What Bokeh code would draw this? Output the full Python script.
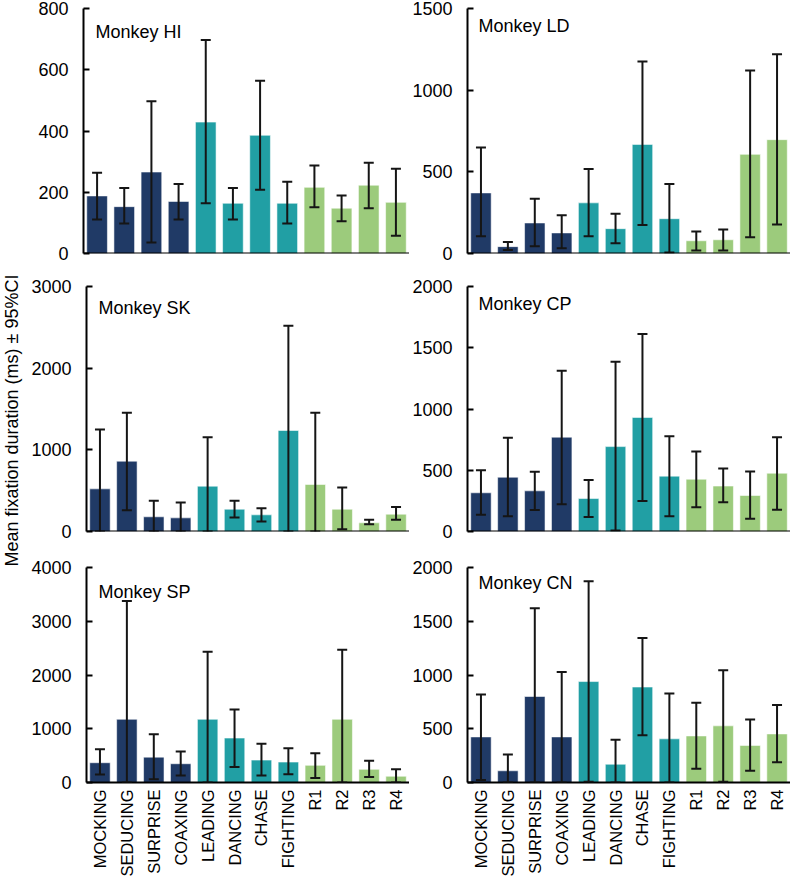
import math
from bokeh.plotting import figure
from bokeh.models import (ColumnDataSource, FactorRange, Range1d, FixedTicker,
                          Whisker, TeeHead, Label, Span)
from bokeh.layouts import row, column
from bokeh.embed import file_html
from bokeh.resources import INLINE

# ---------------- data ----------------
categories = ["MOCKING", "SEDUCING", "SURPRISE", "COAXING", "LEADING", "DANCING",
              "CHASE", "FIGHTING", "R1", "R2", "R3", "R4"]
groups = ["g1"] * 4 + ["g2"] * 4 + ["g3"] * 4

hi_mean = [188, 153, 266, 170, 429, 164, 386, 164, 216, 148, 223, 167]
hi_upper = [264, 214, 497, 227, 697, 214, 564, 234, 287, 189, 296, 277]
hi_lower = [111, 98, 36, 111, 164, 111, 208, 98, 151, 105, 148, 58]

ld_mean = [371, 42, 187, 126, 310, 152, 668, 213, 78, 84, 607, 697]
ld_upper = [649, 70, 335, 234, 518, 244, 1175, 425, 135, 147, 1121, 1220]
ld_lower = [105, 21, 44, 32, 105, 63, 175, 6, 19, 19, 99, 177]

sk_mean = [522, 861, 180, 167, 555, 273, 204, 1237, 576, 273, 106, 212]
sk_upper = [1249, 1453, 376, 355, 1155, 376, 286, 2518, 1453, 539, 143, 300]
sk_lower = [0, 261, 0, 0, 0, 171, 122, 0, 0, 29, 90, 145]

cp_mean = [316, 443, 332, 770, 269, 693, 931, 452, 427, 371, 294, 476]
cp_upper = [501, 765, 488, 1313, 421, 1385, 1612, 778, 654, 515, 490, 770]
cp_lower = [136, 125, 175, 222, 119, 8, 249, 125, 197, 238, 105, 177]

sp_mean = [368, 1176, 472, 349, 1176, 827, 417, 380, 319, 1176, 245, 116]
sp_upper = [619, 3375, 900, 576, 2432, 1360, 723, 637, 545, 2469, 404, 245]
sp_lower = [147, 0, 61, 129, 0, 288, 129, 153, 86, 0, 104, 0]

cn_mean = [424, 109, 800, 424, 939, 170, 888, 406, 433, 527, 345, 452]
cn_upper = [818, 261, 1621, 1027, 1873, 397, 1345, 827, 742, 1045, 585, 721]
cn_lower = [24, 0, 0, 0, 6, 0, 439, 0, 127, 6, 109, 188]

panel_titles = ["Monkey HI", "Monkey LD", "Monkey SK", "Monkey CP", "Monkey SP", "Monkey CN"]
y_max = [800, 1500, 3000, 2000, 4000, 2000]
y_step = [200, 500, 1000, 500, 1000, 500]
y_label = "Mean fixation duration (ms) \u00b1 95%CI"

# ---------------- styles ----------------
palette = {"g1": "#203a66", "g2": "#219fa4", "g3": "#9ccb7c"}
FONT = "Liberation Sans"
ERR = "#151515"

panel_data = [
    (hi_mean, hi_upper, hi_lower), (ld_mean, ld_upper, ld_lower),
    (sk_mean, sk_upper, sk_lower), (cp_mean, cp_upper, cp_lower),
    (sp_mean, sp_upper, sp_lower), (cn_mean, cn_upper, cn_lower),
]

STRIP_W = 28
LEFT_W = 381     # 28 .. 409
RIGHT_W = 381    # 409 .. 790
LEFT_BORDER = [55, 58]
RIGHT_BORDER = [0, 0]
ROW_BORDERS = [(8, 16), (17, 18), (18, 95)]
FRAME_H = [245, 245, 217]
TITLE_DY = [[23, 17], [21, 17], [25, 16]]
TITLE_DX = [12, 11]


def make_panel(idx):
    r, c = divmod(idx, 2)
    mean, upper, lower = panel_data[idx]
    top_b, bot_b = ROW_BORDERS[r]
    fh = FRAME_H[r]
    w = LEFT_W if c == 0 else RIGHT_W
    h = top_b + fh + bot_b
    fw = w - LEFT_BORDER[c] - RIGHT_BORDER[c]
    ymax = y_max[idx]

    src = ColumnDataSource(dict(
        cat=categories, mean=mean, upper=upper, lower=lower,
        color=[palette[g] for g in groups]))

    p = figure(x_range=FactorRange(*categories, range_padding=0),
               y_range=Range1d(0, ymax), width=w, height=h,
               output_backend="svg", toolbar_location=None,
               min_border_left=LEFT_BORDER[c], min_border_right=RIGHT_BORDER[c],
               min_border_top=top_b, min_border_bottom=bot_b)
    p.vbar(x="cat", top="mean", width=0.76, source=src, fill_color="color",
           line_color="#ffffff", line_alpha=0.55, line_width=1)
    head = dict(size=10, line_width=2, line_color=ERR)
    p.add_layout(Whisker(base="cat", upper="upper", lower="lower", source=src,
                         line_width=2, line_color=ERR, level="overlay",
                         upper_head=TeeHead(**head), lower_head=TeeHead(**head)))

    p.xgrid.visible = False
    p.ygrid.visible = False
    p.outline_line_color = None
    p.background_fill_color = "white"
    p.border_fill_color = "white"

    ya = p.yaxis[0]
    ya.ticker = FixedTicker(ticks=list(range(0, ymax + 1, y_step[idx])))
    ya.major_tick_in = 6
    ya.major_tick_out = 0
    ya.major_tick_line_width = 2
    ya.major_tick_line_color = "black"
    ya.minor_tick_line_color = None
    ya.axis_line_width = 2
    ya.axis_line_color = "black"
    ya.major_label_standoff = 15
    ya.major_label_text_font = FONT
    ya.major_label_text_font_size = "18px"
    ya.major_label_text_color = "black"

    xa = p.xaxis[0]
    if r == 2:
        xa.major_tick_line_color = None
        xa.minor_tick_line_color = None
        xa.major_tick_out = 0
        xa.major_tick_in = 0
        xa.axis_line_width = 2
        xa.axis_line_color = "black"
        xa.major_label_orientation = math.pi / 2
        xa.major_label_standoff = 7
        xa.major_label_text_font = FONT
        xa.major_label_text_font_size = "16.5px"
        xa.major_label_text_color = "black"
    else:
        xa.visible = False
        p.add_layout(Span(location=0, dimension="width", line_color="black",
                          line_width=2, level="overlay"))

    cat_px = fw / len(categories)
    p.add_layout(Label(x=TITLE_DX[c] / cat_px, y=ymax * (1 - TITLE_DY[r][c] / fh),
                       text=panel_titles[idx], text_font=FONT, text_font_size="18px",
                       text_color="black", text_align="left", text_baseline="middle"))
    return p


panels = [make_panel(i) for i in range(6)]
total_h = sum(tb + fh + bb for (tb, bb), fh in zip(ROW_BORDERS, FRAME_H))

strip = figure(width=STRIP_W, height=total_h, x_range=Range1d(0, STRIP_W),
               y_range=Range1d(0, total_h), output_backend="svg",
               toolbar_location=None, min_border=0)
strip.axis.visible = False
strip.grid.visible = False
strip.outline_line_color = None
strip.add_layout(Label(x=11, y=total_h - 420, text=y_label, angle=90,
                       angle_units="deg", text_font=FONT, text_font_size="18px",
                       text_color="black", text_align="center",
                       text_baseline="middle"))

grid = column(row(panels[0], panels[1]), row(panels[2], panels[3]),
              row(panels[4], panels[5]))
layout = row(strip, grid)

with open("out.html", "w") as f:
    f.write(file_html(layout, INLINE))
